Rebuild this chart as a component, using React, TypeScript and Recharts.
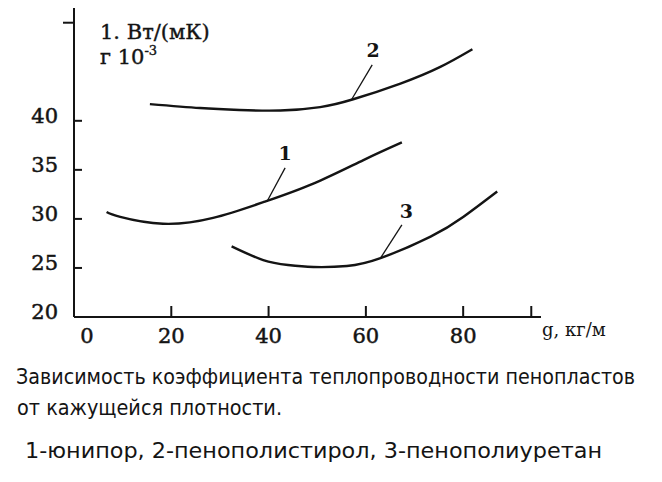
import { LineChart, Line, XAxis, YAxis, ReferenceLine, ReferenceDot } from 'recharts';

// λ·10^-3, Вт/(м·К) vs apparent density, кг/м³
const yunipor = [
  { x: 6.7, y: 30.7 }, { x: 9.5, y: 30.2 }, { x: 18.3, y: 29.5 }, { x: 28.6, y: 30.1 },
  { x: 38.9, y: 31.7 }, { x: 49.2, y: 33.6 }, { x: 59.5, y: 36.0 }, { x: 67.4, y: 37.8 },
];
const polystyrene = [
  { x: 15.6, y: 41.7 }, { x: 25.9, y: 41.3 }, { x: 34, y: 41.1 }, { x: 42.4, y: 41.05 },
  { x: 50.6, y: 41.4 }, { x: 57.4, y: 42.2 }, { x: 67.1, y: 43.8 }, { x: 75.3, y: 45.5 },
  { x: 81.9, y: 47.3 },
];
const polyurethane = [
  { x: 32.4, y: 27.2 }, { x: 38.9, y: 25.8 }, { x: 44, y: 25.3 }, { x: 49.2, y: 25.1 },
  { x: 56.1, y: 25.2 }, { x: 63.0, y: 26.0 }, { x: 73.3, y: 28.2 }, { x: 80.0, y: 30.2 },
  { x: 87.0, y: 32.8 },
];

const xTicks = [0, 20, 40, 60, 80, 94];
const xLabels = [0, 20, 40, 60, 80];
const yTicks = [20, 25, 30, 35, 40, 50];
const yLabels = [20, 25, 30, 35, 40];

// curve numbers and their leader lines
const curveLabels = [
  { name: '2', x: 61.5, y: 47.2, from: { x: 57.1, y: 42.2 }, to: { x: 61.3, y: 45.7 } },
  { name: '1', x: 43.4, y: 36.7, from: { x: 39.7, y: 31.8 }, to: { x: 43.4, y: 35.2 } },
  { name: '3', x: 68.3, y: 30.8, from: { x: 63.0, y: 26.0 }, to: { x: 67.4, y: 29.4 } },
];

const captionLines = [
  'Зависимость коэффициента теплопроводности пенопластов',
  'от кажущейся плотности.',
  '1-юнипор, 2-пенополистирол, 3-пенополиуретан',
];

const INK = '#141414';
const SERIF = '"DejaVu Serif", serif';
const SANS = '"DejaVu Sans Condensed", "DejaVu Sans", sans-serif';

function XTick({ x, y, payload }: any) {
  const v = payload.value;
  return (
    <g>
      {v > 0 && <line x1={x} y1={y} x2={x} y2={y - 11} stroke={INK} strokeWidth={2} />}
      {xLabels.includes(v) && (
        <text x={v === 0 ? x + 13 : x} y={y + 26} textAnchor="middle" fontFamily={SERIF}
          fontSize={21} fill={INK} stroke={INK} strokeWidth={0.5}>{v}</text>
      )}
    </g>
  );
}

function YTick({ x, y, payload }: any) {
  const v = payload.value;
  return (
    <g>
      {v > 20 && v < 50 && <line x1={x} y1={y} x2={x + 8} y2={y} stroke={INK} strokeWidth={2} />}
      {v === 50 && <line x1={x - 11} y1={y} x2={x} y2={y} stroke={INK} strokeWidth={2} />}
      {yLabels.includes(v) && (
        <text x={x - 16} y={y + 2} textAnchor="end" fontFamily={SERIF}
          fontSize={21} fill={INK} stroke={INK} strokeWidth={0.5}>{v}</text>
      )}
    </g>
  );
}

export default function App() {
  const series = [yunipor, polystyrene, polyurethane];
  return (
    <div style={{ position: 'absolute', left: 0, top: 0, width: 662, height: 482, background: '#fff', overflow: 'hidden' }}>
      <LineChart width={662} height={360} margin={{ top: 8, right: 121, bottom: 13, left: 24 }}>
        <XAxis dataKey="x" type="number" domain={[0, 96]} ticks={xTicks} height={30}
          axisLine={{ stroke: INK, strokeWidth: 2 }} tickLine={false}
          tickSize={0} tickMargin={0} tick={<XTick />} allowDataOverflow />
        <YAxis type="number" domain={[20, 51.5]} ticks={yTicks} width={50}
          axisLine={{ stroke: INK, strokeWidth: 2 }} tickLine={false}
          tickSize={0} tickMargin={0} tick={<YTick />} allowDataOverflow />
        {series.map((d, i) => (
          <Line key={i} data={d} dataKey="y" type="natural" stroke={INK}
            strokeWidth={2.4} dot={false} isAnimationActive={false} />
        ))}
        {curveLabels.map(c => (
          <ReferenceLine key={'l' + c.name} segment={[c.from, c.to]} stroke={INK} strokeWidth={1.3} />
        ))}
        {curveLabels.map(c => (
          <ReferenceDot key={'d' + c.name} x={c.x} y={c.y} r={0} fill="none" stroke="none"
            label={{ value: c.name, position: 'center', fontFamily: SERIF, fontSize: 19, fontWeight: 'bold', fill: INK }} />
        ))}
      </LineChart>
      <svg width={662} height={482} style={{ position: 'absolute', left: 0, top: 0, pointerEvents: 'none' }}>
        <text x={100} y={39} fontFamily={SERIF} fontSize={21} fill={INK} stroke={INK} strokeWidth={0.4}>1. Вт/(мК)</text>
        <text x={100} y={64} fontFamily={SERIF} fontSize={21} fill={INK} stroke={INK} strokeWidth={0.4}>
          г 10<tspan dy={-9} fontSize={13}>-3</tspan>
        </text>
        <text x={542} y={336} fontFamily={SERIF} fontSize={18} fill={INK}>g, кг/м</text>
        <text x={16} y={384} fontFamily={SANS} fontSize={21} fill={INK}
          textLength={619} lengthAdjust="spacingAndGlyphs">{captionLines[0]}</text>
        <text x={17} y={415} fontFamily={SANS} fontSize={21} fill={INK}
          textLength={265} lengthAdjust="spacingAndGlyphs">{captionLines[1]}</text>
        <text x={25} y={458} fontFamily={SANS} fontSize={22} fill={INK}
          textLength={577} lengthAdjust="spacingAndGlyphs">{captionLines[2]}</text>
      </svg>
    </div>
  );
}
